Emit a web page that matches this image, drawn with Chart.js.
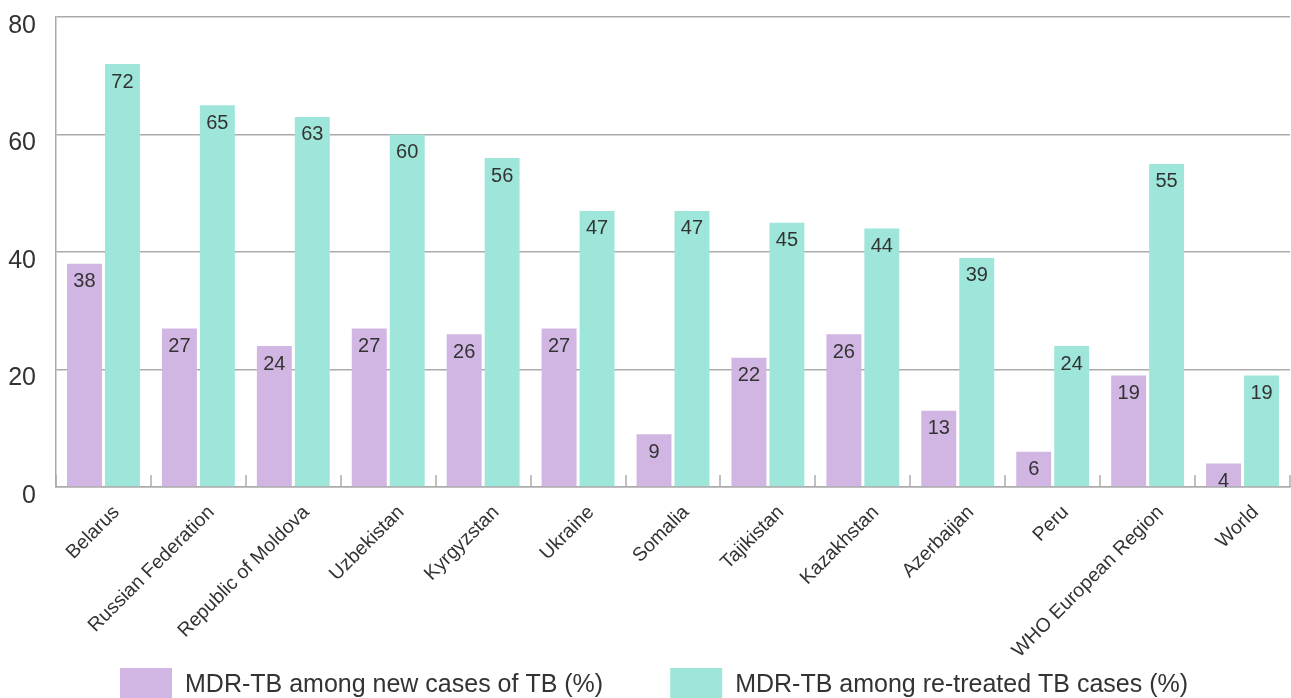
<!DOCTYPE html>
<html>
<head>
<meta charset="utf-8">
<script src="https://cdn.jsdelivr.net/npm/chart.js@4/dist/chart.umd.min.js"></script>
<style>
  html, body { margin: 0; padding: 0; background: #ffffff; overflow: hidden; }
  #wrap { width: 1291px; height: 698px; position: relative; }
</style>
</head>
<body>
<div id="wrap"><canvas id="chart"></canvas></div>
<script>
// Countries and regions shown along the x axis
const categories = [
  'Belarus', 'Russian Federation', 'Republic of Moldova', 'Uzbekistan',
  'Kyrgyzstan', 'Ukraine', 'Somalia', 'Tajikistan', 'Kazakhstan',
  'Azerbaijan', 'Peru', 'WHO European Region', 'World'
];

// MDR-TB share among new TB cases (%)
const newCases = [38, 27, 24, 27, 26, 27, 9, 22, 26, 13, 6, 19, 4];

// MDR-TB share among previously treated TB cases (%)
const retreatedCases = [72, 65, 63, 60, 56, 47, 47, 45, 44, 39, 24, 55, 19];

const seriesNames = [
  'MDR-TB among new cases of TB (%)',
  'MDR-TB among re-treated TB cases (%)'
];

const yTickValues = [0, 20, 40, 60, 80];

const FONT = "'Liberation Sans', Arial, sans-serif";
const TEXT = '#333333';
const GRID = '#ababab';
const PURPLE = '#d1b6e3';
const TEAL = '#9ee6da';

// Value printed just inside the top of every bar
const barValueLabels = {
  id: 'barValueLabels',
  afterDatasetsDraw(chart) {
    const ctx = chart.ctx;
    ctx.save();
    ctx.font = '20px ' + FONT;
    ctx.fillStyle = TEXT;
    ctx.textAlign = 'center';
    ctx.textBaseline = 'middle';
    chart.data.datasets.forEach((ds, di) => {
      chart.getDatasetMeta(di).data.forEach((bar, i) => {
        ctx.fillText(String(ds.data[i]), bar.x, bar.y + 18);
      });
    });
    ctx.restore();
  }
};

// Short marks rising from the x axis between categories
const categoryTicks = {
  id: 'categoryTicks',
  beforeDatasetsDraw(chart) {
    const ctx = chart.ctx;
    const xs = chart.scales.x;
    const bottom = chart.chartArea.bottom;
    ctx.save();
    ctx.strokeStyle = GRID;
    ctx.lineWidth = 1.5;
    for (let i = 0; i <= categories.length; i++) {
      const x = Math.round(xs.getPixelForValue(i - 0.5));
      ctx.beginPath();
      ctx.moveTo(x, bottom - 12);
      ctx.lineTo(x, bottom);
      ctx.stroke();
    }
    ctx.restore();
  }
};

// Legend row along the bottom edge
const bottomLegend = {
  id: 'bottomLegend',
  afterDraw(chart) {
    const ctx = chart.ctx;
    const boxW = 52, boxH = 32, textGap = 13, itemGap = 67;
    const top = 668;
    ctx.save();
    ctx.font = '25px ' + FONT;
    let x = 120;
    chart.data.datasets.forEach(ds => {
      ctx.fillStyle = ds.backgroundColor;
      ctx.fillRect(x, top, boxW, boxH);
      ctx.fillStyle = TEXT;
      ctx.textAlign = 'left';
      ctx.textBaseline = 'middle';
      ctx.fillText(ds.label, x + boxW + textGap, top + 17);
      x += boxW + textGap + ctx.measureText(ds.label).width + itemGap;
    });
    ctx.restore();
  }
};

new Chart(document.getElementById('chart'), {
  type: 'bar',
  data: {
    labels: categories,
    datasets: [
      { label: seriesNames[0], data: newCases, backgroundColor: PURPLE },
      { label: seriesNames[1], data: retreatedCases, backgroundColor: TEAL }
    ]
  },
  options: {
    responsive: true,
    maintainAspectRatio: false,
    animation: false,
    events: [],
    layout: { padding: { top: 0, right: 1, bottom: 0, left: 0 } },
    datasets: { bar: { categoryPercentage: 0.8, barPercentage: 0.92 } },
    plugins: {
      legend: { display: false },
      tooltip: { enabled: false }
    },
    scales: {
      x: {
        grid: { display: false },
        border: { display: true, color: GRID, width: 1.5 },
        ticks: {
          font: { family: FONT, size: 19.5 },
          color: TEXT,
          minRotation: 45,
          maxRotation: 45,
          autoSkip: false,
          padding: 6,
          labelOffset: 13
        },
        afterFit(scale) { scale.height = 211; }
      },
      y: {
        min: 0,
        max: 80,
        afterBuildTicks(scale) { scale.ticks = yTickValues.map(v => ({ value: v })); },
        grid: { color: GRID, lineWidth: 1.5, drawTicks: false },
        border: { display: true, color: GRID, width: 1.5 },
        ticks: {
          font: { family: FONT, size: 25 },
          color: TEXT,
          padding: 20,
          labelOffset: 9
        },
        afterFit(scale) {
          scale.width = 56;
          scale.paddingTop = 17;
          scale.paddingBottom = 0;
        }
      }
    }
  },
  plugins: [categoryTicks, barValueLabels, bottomLegend]
});
</script>
</body>
</html>
